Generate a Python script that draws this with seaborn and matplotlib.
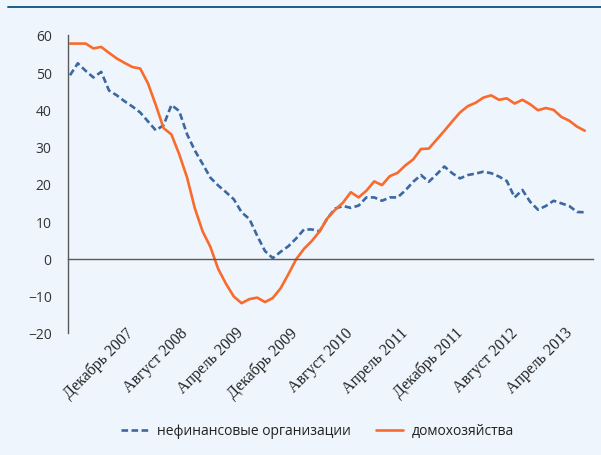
# Кредиты: нефинансовые организации и домохозяйства (рост, % г/г)
import matplotlib
matplotlib.use("Agg")
import matplotlib.pyplot as plt
import matplotlib.transforms as mtransforms
from matplotlib.lines import Line2D
import seaborn as sns
import pandas as pd

# ---- dados ----
nefin = [49.2, 52.4, 50.4, 48.6, 50.1, 45.1, 43.8, 42.2, 40.8, 39.2,
         36.8, 34.4, 35.8, 41.2, 39.6, 33.4, 29.0, 25.4, 21.7, 19.6,
         17.8, 15.9, 12.4, 10.6, 6.1, 2.0, 0.1, 1.8, 3.3, 5.4,
         7.8, 7.8, 7.3, 10.8, 13.4, 14.1, 13.6, 14.2, 16.4, 16.4,
         15.5, 16.4, 16.4, 18.3, 20.6, 22.4, 20.6, 22.6, 24.7, 22.9,
         21.5, 22.4, 22.8, 23.3, 22.9, 22.0, 20.8, 16.4, 18.4, 15.2,
         13.1, 14.1, 15.5, 14.8, 14.1, 12.5, 12.4]

domohoz = [57.7, 57.7, 57.7, 56.4, 56.8, 55.2, 53.7, 52.5, 51.4, 51.0,
           47.0, 41.2, 35.0, 33.3, 28.0, 21.8, 13.5, 7.3, 3.1, -2.8,
           -6.8, -10.2, -12.0, -10.9, -10.5, -11.7, -10.6, -8.0, -4.2, -0.2,
           2.6, 4.7, 7.3, 10.8, 13.1, 15.0, 17.8, 16.4, 18.2, 20.7,
           19.7, 22.1, 23.0, 25.0, 26.6, 29.4, 29.5, 31.9, 34.3, 36.8,
           39.2, 40.9, 41.8, 43.2, 43.8, 42.6, 43.0, 41.6, 42.6, 41.4,
           39.8, 40.4, 39.9, 38.0, 37.0, 35.4, 34.3]

rotulos_x = ["Декабрь 2007", "Август 2008", "Апрель 2009", "Декабрь 2009",
             "Август 2010", "Апрель 2011", "Декабрь 2011", "Август 2012",
             "Апрель 2013"]

serie_1 = "нефинансовые организации"
serie_2 = "домохозяйства"

# posições (em unidades de ponto) dos rótulos e dos ticks do eixo x
pos_rotulos = [7.8 + 7.04 * k for k in range(len(rotulos_x))]
pos_ticks = [1.756 + 2.7205 * k for k in range(25)]

# ---- cores ----
fundo = "#EEF5FC"
azul = "#3B68A0"
laranja = "#F96B2D"
cinza = "#5A5A5A"

sns.set_style("white")
plt.rcParams["font.family"] = ["Open Sans", "DejaVu Sans"]

df = pd.DataFrame({"t": range(len(nefin)), serie_1: nefin, serie_2: domohoz})

fig = plt.figure(figsize=(6.01, 4.56), dpi=100, facecolor=fundo)
ax = fig.add_axes([67.7 / 601, 1 - 334 / 456, (593 - 67.7) / 601, (334 - 36) / 456])
ax.set_facecolor(fundo)

sns.lineplot(data=df, x="t", y=serie_1, color=azul, linewidth=1.9,
             linestyle=(0, (2.5, 1.3)), label=serie_1, ax=ax)
sns.lineplot(data=df, x="t", y=serie_2, color=laranja, linewidth=1.9,
             label=serie_2, ax=ax)

ax.set_xlim(-0.295, 67.05)
ax.set_ylim(-20, 60)
ax.set_xlabel("")
ax.set_ylabel("")

# eixo x passando por zero
for s in ["top", "right"]:
    ax.spines[s].set_visible(False)
ax.spines["bottom"].set_position(("data", 0))
for s in ["bottom", "left"]:
    ax.spines[s].set_color(cinza)
    ax.spines[s].set_linewidth(1.0)

ax.set_xticks(pos_ticks)
ax.tick_params(axis="x", direction="out", length=4.5, width=1, color=cinza, labelbottom=False)
ax.set_yticks(range(-20, 61, 10))
ax.tick_params(axis="y", direction="out", length=4.5, width=1, color=cinza,
               labelsize=10, labelcolor="#333333", pad=7)

# rótulos de data inclinados abaixo do gráfico
desloc = mtransforms.ScaledTranslation(0, 3 / 100, fig.dpi_scale_trans)
for p, r in zip(pos_rotulos, rotulos_x):
    ax.text(p, 0, r, transform=ax.get_xaxis_transform() + desloc, rotation=45,
            ha="right", va="center", rotation_mode="anchor",
            fontfamily="Liberation Serif", fontsize=11.5, color="#222222")

ax.legend(loc="center", bbox_to_anchor=(0.528, 1 - 432 / 456), bbox_transform=fig.transFigure,
          ncol=2, frameon=False, handlelength=2.0, handletextpad=0.6, columnspacing=1.8,
          fontsize=10, labelcolor="#222222")

# linha do cabeçalho no topo
fig.add_artist(Line2D([8.3 / 601, 1], [1 - 8 / 456, 1 - 8 / 456], color="#1B5E8A", linewidth=1.4))

fig.savefig("out.png", dpi=100, facecolor=fundo)
